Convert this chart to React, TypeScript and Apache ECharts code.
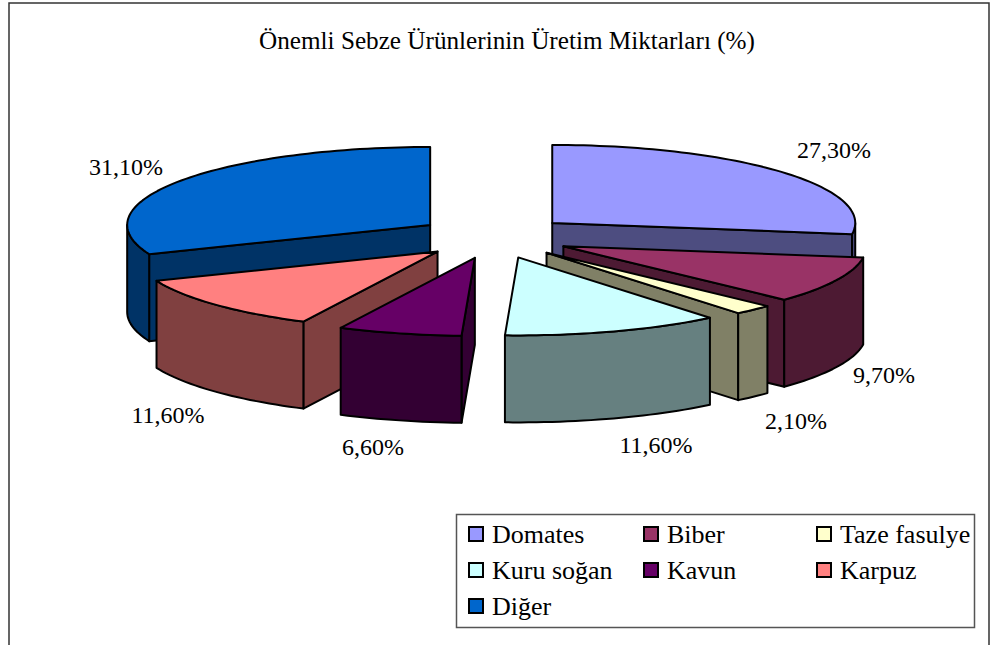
import React, { useEffect, useRef } from "react";
import * as echarts from "echarts";

const categories = ["Domates", "Biber", "Taze fasulye", "Kuru soğan", "Kavun", "Karpuz", "Diğer"];
const values = [27.3, 9.7, 2.1, 11.6, 6.6, 11.6, 31.1];
const topColors = ["#9999FF", "#993366", "#FFFFCC", "#CCFFFF", "#660066", "#FF8080", "#0066CC"];
const sideColors = ["#4D4D80", "#4D1A33", "#808066", "#668080", "#330033", "#804040", "#003366"];
const paintOrder = [0, 6, 1, 2, 5, 3, 4];
const titleText = "Önemli Sebze Ürünlerinin Üretim Miktarları (%)";
const legendColumns = [
  ["Domates", "Kuru soğan", "Diğer"],
  ["Biber", "Kavun"],
  ["Taze fasulye", "Karpuz"],
];

// layout of the projected pie
const CX = 494, CY = 237, RX = 303, RY = 78, DEPTH = 87, EX = 77, EY = 21.5;
const labelAt = [
  [834, 150], [884, 375], [796, 421], [656, 445], [373, 447], [168, 415], [126, 167],
];
const FONT = '"Liberation Serif", "Times New Roman", serif';
const total = values.reduce((a, b) => a + b, 0);

function sliceAngles(i: number) {
  let start = 0;
  for (let k = 0; k < i; k++) start += values[k];
  return [(start / total) * 360, ((start + values[i]) / total) * 360];
}
const rad = (d: number) => (d * Math.PI) / 180;
function arcPoints(cx: number, cy: number, a0: number, a1: number) {
  const pts: number[][] = [];
  const n = Math.max(2, Math.ceil((a1 - a0) / 1.5));
  for (let k = 0; k <= n; k++) {
    const a = rad(a0 + ((a1 - a0) * k) / n);
    pts.push([cx + RX * Math.sin(a), cy - RY * Math.cos(a)]);
  }
  return pts;
}

function renderSlice(i: number) {
  const [a0, a1] = sliceAngles(i);
  const mid = rad((a0 + a1) / 2);
  const cx = CX + EX * Math.sin(mid);
  const cy = CY - EY * Math.cos(mid);
  const stroke = { stroke: "#000", lineWidth: 2, lineJoin: "round" };
  const children: any[] = [];
  const cut = (a: number) => {
    const [p] = arcPoints(cx, cy, a, a + 1);
    children.push({
      type: "polygon",
      shape: { points: [[cx, cy], p, [p[0], p[1] + DEPTH], [cx, cy + DEPTH]] },
      style: { fill: sideColors[i], ...stroke },
    });
  };
  if (a1 < 180) cut(a1);
  if (a0 > 180) cut(a0);
  const r0 = Math.max(a0, 90), r1 = Math.min(a1, 270);
  if (r1 > r0) {
    const top = arcPoints(cx, cy, r0, r1);
    const bottom = top.map((p) => [p[0], p[1] + DEPTH]).reverse();
    children.push({
      type: "polygon",
      shape: { points: [...top, ...bottom] },
      style: { fill: sideColors[i], ...stroke },
    });
  }
  children.push({
    type: "polygon",
    shape: { points: [[cx, cy], ...arcPoints(cx, cy, a0, a1)] },
    style: { fill: topColors[i], ...stroke },
  });
  children.push({
    type: "text",
    style: {
      text: values[i].toFixed(2).replace(".", ",") + "%",
      x: labelAt[i][0],
      y: labelAt[i][1],
      align: "center",
      verticalAlign: "middle",
      font: `24px ${FONT}`,
      fill: "#000",
    },
  });
  return { type: "group", children };
}

export default function App() {
  const ref = useRef<HTMLDivElement>(null);
  useEffect(() => {
    const chart = echarts.init(ref.current!, null, { renderer: "svg" });
    const legendX = [468, 643, 816];
    chart.setOption({
      animation: false,
      backgroundColor: "#fff",
      title: {
        text: titleText,
        left: 502,
        top: 23,
        textAlign: "center",
        textStyle: { fontFamily: FONT, fontSize: 25.2, fontWeight: "normal", color: "#000" },
      },
      legend: legendColumns.map((data, c) => ({
        data,
        orient: "vertical",
        left: legendX[c] - 5,
        top: 516,
        padding: 5,
        itemGap: 10,
        itemWidth: 14,
        itemHeight: 24,
        icon: "path://M0,5H14V19H0Z",
        itemStyle: { borderColor: "#000", borderWidth: 2 },
        selectedMode: false,
        textStyle: { fontFamily: FONT, fontSize: 26, color: "#000", padding: [0, 0, 0, 4] },
      })),
      graphic: [
        {
          type: "rect",
          z: -1,
          shape: { x: 9, y: 3, width: 980, height: 700 },
          style: { fill: "#fff", stroke: "#333", lineWidth: 1.5 },
        },
        {
          type: "rect",
          z: -1,
          shape: { x: 456.5, y: 514.5, width: 518, height: 113 },
          style: { fill: "#fff", stroke: "#555", lineWidth: 1.5 },
        },
      ],
      series: paintOrder.map((i) => ({
        type: "custom",
        name: categories[i],
        coordinateSystem: "none",
        silent: true,
        itemStyle: { color: topColors[i] },
        data: [values[i]],
        renderItem: () => renderSlice(i),
      })),
    });
    return () => chart.dispose();
  }, []);
  return <div ref={ref} style={{ position: "fixed", left: 0, top: 0, width: 998, height: 645 }} />;
}
